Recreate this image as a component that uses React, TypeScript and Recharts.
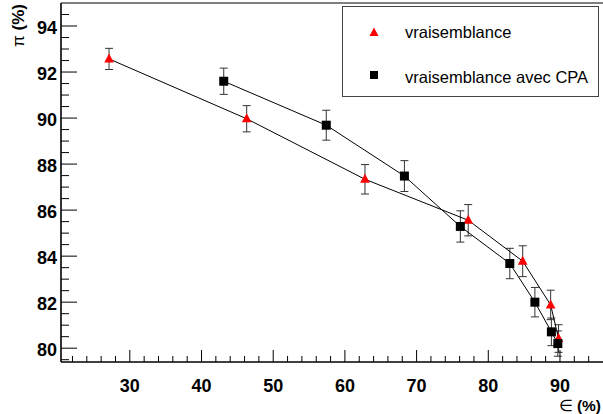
import React from 'react';
import { ScatterChart, Scatter, XAxis, YAxis, ErrorBar, Legend, ReferenceLine } from 'recharts';

// Data
const seriesNames = ['vraisemblance', 'vraisemblance avec CPA'];

const vraisX = [27.1, 46.3, 62.8, 77.2, 84.8, 88.7, 89.8];
const vraisY = [92.57, 89.97, 87.34, 85.56, 83.78, 81.88, 80.42];
const vraisErr = [0.46, 0.57, 0.64, 0.68, 0.67, 0.64, 0.6];

const cpaX = [43.1, 57.4, 68.3, 76.1, 83.0, 86.5, 88.8, 89.7];
const cpaY = [91.6, 89.69, 87.48, 85.29, 83.68, 82.0, 80.71, 80.2];
const cpaErr = [0.57, 0.65, 0.67, 0.68, 0.66, 0.64, 0.6, 0.55];

const xDomain: [number, number] = [20.4, 96];
const yDomain: [number, number] = [79.4, 95];

const xMajor = [30, 40, 50, 60, 70, 80, 90];
const xTicks = [22, 24, 26, 28, 30, 32, 34, 36, 38, 40, 42, 44, 46, 48, 50, 52, 54, 56, 58, 60, 62, 64, 66, 68, 70, 72, 74, 76, 78, 80, 82, 84, 86, 88, 90, 92, 94];
const yMajor = [80, 82, 84, 86, 88, 90, 92, 94];
const yTicks = [79.5, 80, 80.5, 81, 81.5, 82, 82.5, 83, 83.5, 84, 84.5, 85, 85.5, 86, 86.5, 87, 87.5, 88, 88.5, 89, 89.5, 90, 90.5, 91, 91.5, 92, 92.5, 93, 93.5, 94, 94.5];

const vraisData = vraisX.map((x, i) => ({ x, y: vraisY[i], err: vraisErr[i] }));
const cpaData = cpaX.map((x, i) => ({ x, y: cpaY[i], err: cpaErr[i] }));

const FONT = '"Liberation Sans", Arial, Helvetica, sans-serif';

const XTick = (props: any) => {
  const { x, y, payload } = props;
  const v = payload.value;
  const major = xMajor.includes(v);
  return (
    <g>
      <line x1={x} y1={y} x2={x} y2={y - (major ? 12 : 6)} stroke="#000" strokeWidth={1} />
      {major && (
        <text x={x} y={y + 30} textAnchor="middle" fontFamily={FONT} fontWeight="bold" fontSize={18} fill="#000">
          {v}
        </text>
      )}
    </g>
  );
};

const YTick = (props: any) => {
  const { x, y, payload } = props;
  const v = payload.value;
  const major = yMajor.includes(v);
  return (
    <g>
      <line x1={x} y1={y} x2={x + (major ? 16 : 8)} y2={y} stroke="#000" strokeWidth={1} />
      {major && (
        <text x={x - 4} y={y + 7.5} textAnchor="end" fontFamily={FONT} fontWeight="bold" fontSize={18} fill="#000">
          {v}
        </text>
      )}
    </g>
  );
};

const Triangle = (props: any) => {
  const { cx, cy } = props;
  if (cx == null || cy == null) return null;
  return <path d={`M${cx},${cy - 5.5}L${cx + 4.8},${cy + 3.5}L${cx - 4.8},${cy + 3.5}Z`} fill="#ff0000" />;
};

const Square = (props: any) => {
  const { cx, cy } = props;
  if (cx == null || cy == null) return null;
  return <rect x={cx - 4.5} y={cy - 4.5} width={9} height={9} fill="#000" />;
};

const renderLegend = () => (
  <div
    style={{
      width: 255,
      height: 89,
      border: '1px solid #444',
      background: '#fff',
      position: 'relative',
      fontFamily: FONT,
      fontSize: 16.5,
      color: '#000',
    }}
  >
    <svg width={20} height={20} style={{ position: 'absolute', left: 21, top: 15 }}>
      <path d="M10,5.5L14.5,14L5.5,14Z" fill="#ff0000" />
    </svg>
    <div style={{ position: 'absolute', left: 62, top: 15, lineHeight: '20px', whiteSpace: 'nowrap' }}>{seriesNames[0]}</div>
    <svg width={20} height={20} style={{ position: 'absolute', left: 21, top: 58 }}>
      <rect x={6} y={6} width={8} height={8} fill="#000" />
    </svg>
    <div style={{ position: 'absolute', left: 62, top: 60, lineHeight: '20px', whiteSpace: 'nowrap' }}>{seriesNames[1]}</div>
  </div>
);

export default function App() {
  return (
    <div style={{ position: 'absolute', left: 0, top: 0, width: 603, height: 414, background: '#fff' }}>
      <ScatterChart width={603} height={414} margin={{ top: 3, right: 0, left: 0, bottom: 0 }}>
        <XAxis
          type="number"
          dataKey="x"
          domain={xDomain}
          allowDataOverflow
          ticks={xTicks}
          interval={0}
          tick={<XTick />}
          tickLine={false}
          tickSize={0}
          tickMargin={0}
          height={52}
          axisLine={{ stroke: '#000', strokeWidth: 1.6 }}
        />
        <YAxis
          type="number"
          dataKey="y"
          domain={yDomain}
          allowDataOverflow
          ticks={yTicks}
          interval={0}
          tick={<YTick />}
          tickLine={false}
          tickSize={0}
          tickMargin={0}
          width={61}
          axisLine={{ stroke: '#000', strokeWidth: 1.6 }}
          label={(p: any) => (
            <text transform="rotate(-90, 24, 4)" x={24} y={4} textAnchor="end" fontFamily={FONT} fontSize={17} fill="#000">
              <tspan>π</tspan>
              <tspan fontWeight="bold"> (%)</tspan>
            </text>
          )}
        />
        <ReferenceLine y={yDomain[1]} stroke="#000" strokeWidth={1} />
        <Scatter
          name={seriesNames[0]}
          data={vraisData}
          line={{ stroke: '#000', strokeWidth: 1 }}
          lineJointType="linear"
          shape={<Triangle />}
          isAnimationActive={false}
        >
          <ErrorBar dataKey="err" direction="y" width={4} stroke="#333" strokeWidth={1} isAnimationActive={false} />
        </Scatter>
        <Scatter
          name={seriesNames[1]}
          data={cpaData}
          line={{ stroke: '#000', strokeWidth: 1 }}
          lineJointType="linear"
          shape={<Square />}
          isAnimationActive={false}
        >
          <ErrorBar dataKey="err" direction="y" width={4} stroke="#333" strokeWidth={1} isAnimationActive={false} />
        </Scatter>
        <Legend
          layout="vertical"
          align="center"
          verticalAlign="middle"
          content={renderLegend}
          wrapperStyle={{ position: 'absolute', left: 342, top: 6, width: 257, height: 91 }}
        />
      </ScatterChart>
      <svg width={603} height={414} style={{ position: 'absolute', left: 0, top: 0, pointerEvents: 'none' }}>
        <text x={601} y={410.5} textAnchor="end" fontFamily={FONT} fontSize={15.5} fill="#000">
          <tspan>∈</tspan>
          <tspan fontWeight="bold"> (%)</tspan>
        </text>
      </svg>
    </div>
  );
}
